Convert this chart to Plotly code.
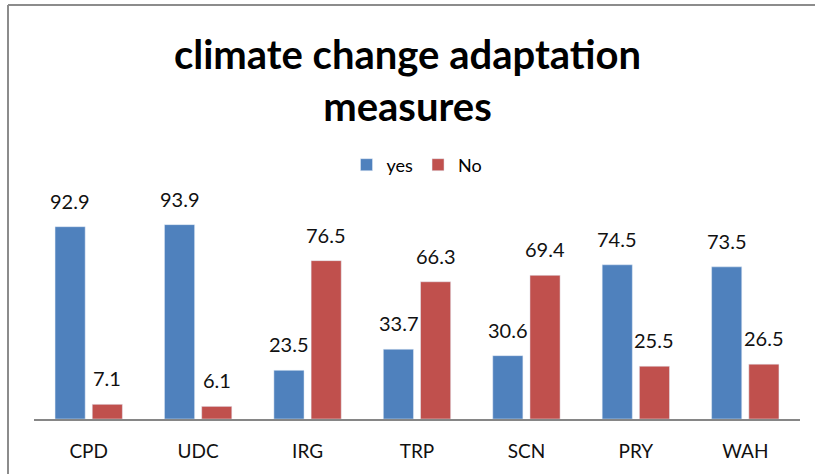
import plotly.graph_objects as go

categories = ["CPD", "UDC", "IRG", "TRP", "SCN", "PRY", "WAH"]
yes_values = [92.9, 93.9, 23.5, 33.7, 30.6, 74.5, 73.5]
no_values = [7.1, 6.1, 76.5, 66.3, 69.4, 25.5, 26.5]

FONT = "Lato"
BLUE = "#4F81BD"
RED = "#C0504D"

W, H = 815, 474
ML, MR, MT, MB = 34, 15, 212, 55
PW, PH = W - ML - MR, H - MT - MB

fig = go.Figure()
fig.add_trace(go.Bar(x=categories, y=yes_values, name="yes", marker_color=BLUE))
fig.add_trace(go.Bar(x=categories, y=no_values, name="No", marker_color=RED))

annotations = []
for vals, shift in ((yes_values, -18.5), (no_values, 18.5)):
    for c, v in zip(categories, vals):
        annotations.append(dict(x=c, y=v, xref="x", yref="y", text=f"{v:.1f}",
                                showarrow=False, xshift=shift, yshift=12, yanchor="bottom",
                                font=dict(family=FONT, size=20, color="#111111")))

fig.update_layout(
    width=W, height=H,
    margin=dict(l=ML, r=MR, t=MT, b=MB, autoexpand=False),
    paper_bgcolor="white", plot_bgcolor="white",
    barmode="group", bargap=0.32, bargroupgap=0.19,
    title=dict(text="<b>climate change adaptation<br>measures</b>",
               x=0.5, xanchor="center", y=1 - 69 / H, yanchor="top", yref="container",
               font=dict(family=FONT, size=40, color="black")),
    legend=dict(orientation="h", x=0.5, xanchor="center", y=1 - 165 / H, yanchor="middle",
                yref="container", itemwidth=30, font=dict(family=FONT, size=18, color="black")),
    xaxis=dict(showline=True, linecolor="#868686", linewidth=1.5, ticks="",
               tickfont=dict(family=FONT, size=19, color="#111111"), ticklabelstandoff=14),
    yaxis=dict(range=[0, 100], visible=False),
    annotations=annotations,
    showlegend=True,
)
bx = (8 - ML) / PW
by = (H - MB - 5) / PH
fig.add_shape(type="line", xref="paper", yref="paper", x0=bx, x1=1.1, y0=by, y1=by,
              line=dict(color="#8C8C8C", width=2))
fig.add_shape(type="line", xref="paper", yref="paper", x0=bx, x1=bx, y0=by, y1=-0.5,
              line=dict(color="#8C8C8C", width=2))
fig.write_html("out.html", config={"displayModeBar": False},
               post_script="document.body.style.margin='0';document.body.style.overflow='hidden';")
